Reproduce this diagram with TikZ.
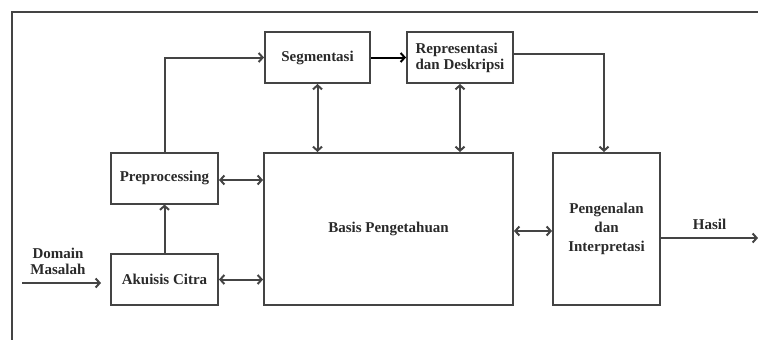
\documentclass[tikz,border=0pt]{standalone}
\usepackage{fontspec}
\setmainfont{Liberation Serif}
\usetikzlibrary{arrows.meta}
\definecolor{garis}{HTML}{444444}
\definecolor{tulisan}{HTML}{2A2A2A}
\begin{document}
\begin{tikzpicture}[x=1pt,y=-1pt,
    kotak/.style={draw=garis,line width=2pt,text=tulisan,inner sep=2pt,
      font=\bfseries\fontsize{15}{17}\selectfont,align=center},
    label/.style={text=tulisan,inner sep=1pt,font=\bfseries\fontsize{15}{16}\selectfont,align=center},
    panah/.style={draw=garis,line width=2pt,-{Straight Barb[length=4pt,width=9pt]}},
    dua/.style={draw=garis,line width=2pt,{Straight Barb[length=4pt,width=9pt]}-{Straight Barb[length=4pt,width=9pt]}}]
    \useasboundingbox (0,0) rectangle (758,340);
    % bingkai
    \draw[garis,line width=1.6pt] (12,340) -- (12,12) -- (758,12);
    % kotak proses
    \node[kotak,minimum width=105pt,minimum height=51pt] (seg) at (317.5,57.5) {Segmentasi};
    \node[kotak,minimum width=106pt,minimum height=51pt,align=left,font=\bfseries\fontsize{15}{16}\selectfont] (repr) at (460,57.5) {Representasi\\dan Deskripsi};
    \node[kotak,minimum width=107pt,minimum height=51pt] (pre) at (164.5,178) {Preprocessing};
    \node[kotak,minimum width=107pt,minimum height=51pt] (aku) at (164.5,279.5) {Akuisis Citra};
    \node[kotak,minimum width=249pt,minimum height=152pt] (basis) at (388.5,229) {Basis Pengetahuan};
    \node[kotak,minimum width=107pt,minimum height=152pt,font=\bfseries\fontsize{15}{19}\selectfont] (kenal) at (606.5,229) {Pengenalan\\dan\\Interpretasi};
    % masukan dan keluaran
    \node[label] (domain) at (58,261) {Domain\\Masalah};
    \coordinate (masuk) at (22,283);
    \coordinate (keluar) at (758,238);
    % panah
    \draw[panah] (masuk) -- ([yshift=-3.5pt,xshift=-9pt]aku.west);
    \draw[panah] (aku.north) -- (pre.south);
    \draw[panah] (pre.north) |- (seg.west);
    \draw[panah,draw=black] (seg.east) -- (repr.west);
    \draw[panah] ([yshift=3.5pt]repr.east) -| ([xshift=-2.5pt]kenal.north);
    \draw[dua] (seg.south) -- (seg.south |- basis.north);
    \draw[dua] (repr.south) -- (repr.south |- basis.north);
    \draw[dua] ([yshift=-2pt]pre.east) -- ([yshift=-2pt]pre.east -| basis.west);
    \draw[dua] (aku.east) -- (aku.east -| basis.west);
    \draw[dua] ([yshift=-2pt]basis.east) -- ([yshift=-2pt]kenal.west);
    \draw[panah] (kenal.east |- keluar) -- (keluar) node[label,midway,above=6pt] (hasil) {Hasil};
\end{tikzpicture}
\end{document}
